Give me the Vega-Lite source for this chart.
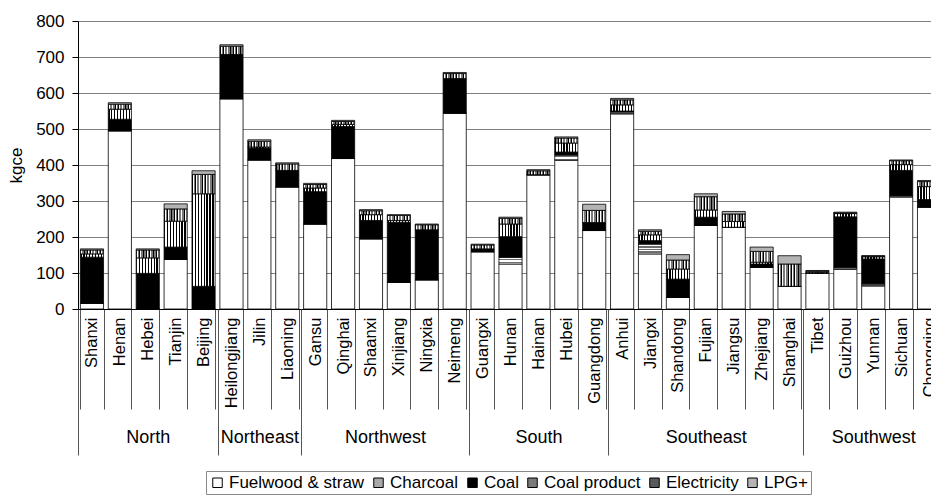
{
  "$schema": "https://vega.github.io/schema/vega-lite/v6.json",
  "width": 853,
  "height": 288,
  "autosize": {"type": "none"},
  "padding": {"left": 78, "top": 21, "right": 0, "bottom": 186},
  "config": {"font": "Liberation Sans", "view": {"stroke": null}},
  "layer": [
    {
      "data": {"values": [
        {"p": "Shanxi", "g": "North", "Fuelwood & straw": 16, "Charcoal": 0, "Coal": 128, "Coal product": 9, "Electricity": 11, "LPG+": 3},
        {"p": "Henan", "g": "North", "Fuelwood & straw": 495, "Charcoal": 0, "Coal": 32, "Coal product": 28, "Electricity": 14, "LPG+": 4},
        {"p": "Hebei", "g": "North", "Fuelwood & straw": 1, "Charcoal": 0, "Coal": 98, "Coal product": 43, "Electricity": 22, "LPG+": 3},
        {"p": "Tianjin", "g": "North", "Fuelwood & straw": 138, "Charcoal": 0, "Coal": 34, "Coal product": 72, "Electricity": 34, "LPG+": 14},
        {"p": "Beijing", "g": "North", "Fuelwood & straw": 0, "Charcoal": 0, "Coal": 63, "Coal product": 257, "Electricity": 54, "LPG+": 10},
        {"p": "Heilongjiang", "g": "Northeast", "Fuelwood & straw": 584, "Charcoal": 0, "Coal": 123, "Coal product": 0, "Electricity": 23, "LPG+": 4},
        {"p": "Jilin", "g": "Northeast", "Fuelwood & straw": 414, "Charcoal": 0, "Coal": 33, "Coal product": 3, "Electricity": 16, "LPG+": 4},
        {"p": "Liaoning", "g": "Northeast", "Fuelwood & straw": 339, "Charcoal": 0, "Coal": 46, "Coal product": 0, "Electricity": 18, "LPG+": 3},
        {"p": "Gansu", "g": "Northwest", "Fuelwood & straw": 236, "Charcoal": 0, "Coal": 90, "Coal product": 10, "Electricity": 10, "LPG+": 3},
        {"p": "Qinghai", "g": "Northwest", "Fuelwood & straw": 418, "Charcoal": 0, "Coal": 89, "Coal product": 6, "Electricity": 8, "LPG+": 3},
        {"p": "Shaanxi", "g": "Northwest", "Fuelwood & straw": 195, "Charcoal": 0, "Coal": 51, "Coal product": 16, "Electricity": 11, "LPG+": 3},
        {"p": "Xinjiang", "g": "Northwest", "Fuelwood & straw": 74, "Charcoal": 0, "Coal": 167, "Coal product": 5, "Electricity": 14, "LPG+": 2},
        {"p": "Ningxia", "g": "Northwest", "Fuelwood & straw": 81, "Charcoal": 0, "Coal": 139, "Coal product": 0, "Electricity": 14, "LPG+": 2},
        {"p": "Neimeng", "g": "Northwest", "Fuelwood & straw": 544, "Charcoal": 0, "Coal": 96, "Coal product": 0, "Electricity": 14, "LPG+": 3},
        {"p": "Guangxi", "g": "South", "Fuelwood & straw": 159, "Charcoal": 0, "Coal": 8, "Coal product": 0, "Electricity": 11, "LPG+": 2},
        {"p": "Hunan", "g": "South", "Fuelwood & straw": 125, "Charcoal": 19, "Coal": 57, "Coal product": 35, "Electricity": 16, "LPG+": 3},
        {"p": "Hainan", "g": "South", "Fuelwood & straw": 373, "Charcoal": 0, "Coal": 0, "Coal product": 0, "Electricity": 11, "LPG+": 3},
        {"p": "Hubei", "g": "South", "Fuelwood & straw": 413, "Charcoal": 15, "Coal": 8, "Coal product": 25, "Electricity": 14, "LPG+": 3},
        {"p": "Guangdong", "g": "South", "Fuelwood & straw": 218, "Charcoal": 0, "Coal": 22, "Coal product": 0, "Electricity": 34, "LPG+": 17},
        {"p": "Anhui", "g": "Southeast", "Fuelwood & straw": 542, "Charcoal": 5, "Coal": 3, "Coal product": 17, "Electricity": 14, "LPG+": 4},
        {"p": "Jiangxi", "g": "Southeast", "Fuelwood & straw": 153, "Charcoal": 28, "Coal": 9, "Coal product": 16, "Electricity": 10, "LPG+": 4},
        {"p": "Shandong", "g": "Southeast", "Fuelwood & straw": 32, "Charcoal": 0, "Coal": 51, "Coal product": 28, "Electricity": 25, "LPG+": 15},
        {"p": "Fujian", "g": "Southeast", "Fuelwood & straw": 232, "Charcoal": 0, "Coal": 23, "Coal product": 20, "Electricity": 37, "LPG+": 8},
        {"p": "Jiangsu", "g": "Southeast", "Fuelwood & straw": 227, "Charcoal": 0, "Coal": 0, "Coal product": 16, "Electricity": 21, "LPG+": 7},
        {"p": "Zhejiang", "g": "Southeast", "Fuelwood & straw": 116, "Charcoal": 0, "Coal": 9, "Coal product": 5, "Electricity": 30, "LPG+": 12},
        {"p": "Shanghai", "g": "Southeast", "Fuelwood & straw": 63, "Charcoal": 0, "Coal": 0, "Coal product": 0, "Electricity": 62, "LPG+": 23},
        {"p": "Tibet", "g": "Southwest", "Fuelwood & straw": 99, "Charcoal": 0, "Coal": 0, "Coal product": 3, "Electricity": 3, "LPG+": 2},
        {"p": "Guizhou", "g": "Southwest", "Fuelwood & straw": 110, "Charcoal": 6, "Coal": 140, "Coal product": 9, "Electricity": 2, "LPG+": 2},
        {"p": "Yunnan", "g": "Southwest", "Fuelwood & straw": 64, "Charcoal": 6, "Coal": 69, "Coal product": 6, "Electricity": 2, "LPG+": 1},
        {"p": "Sichuan", "g": "Southwest", "Fuelwood & straw": 311, "Charcoal": 4, "Coal": 70, "Coal product": 16, "Electricity": 11, "LPG+": 2},
        {"p": "Chongqing", "g": "Southwest", "Fuelwood & straw": 283, "Charcoal": 0, "Coal": 21, "Coal product": 36, "Electricity": 14, "LPG+": 3}
      ]},
      "transform": [
        {"fold": ["Fuelwood & straw", "Charcoal", "Coal", "Coal product", "Electricity", "LPG+"], "as": ["cat", "v"]},
        {"lookup": "cat", "from": {"data": {"values": [
          {"cat": "Fuelwood & straw", "k": 1}, {"cat": "Charcoal", "k": 2}, {"cat": "Coal", "k": 3},
          {"cat": "Coal product", "k": 4}, {"cat": "Electricity", "k": 5}, {"cat": "LPG+", "k": 6}
        ]}, "key": "cat", "fields": ["k"]}}
      ],
      "mark": {"type": "bar", "stroke": "#000000", "strokeWidth": 0.8},
      "encoding": {
        "x": {
          "field": "p", "type": "nominal", "sort": null,
          "scale": {
            "domain": ["Shanxi","Henan","Hebei","Tianjin","Beijing","Heilongjiang","Jilin","Liaoning","Gansu","Qinghai","Shaanxi","Xinjiang","Ningxia","Neimeng","Guangxi","Hunan","Hainan","Hubei","Guangdong","Anhui","Jiangxi","Shandong","Fujian","Jiangsu","Zhejiang","Shanghai","Tibet","Guizhou","Yunnan","Sichuan","Chongqing"],
            "range": [0, 865], "paddingInner": 0.17, "paddingOuter": 0.085
          },
          "axis": {
            "title": null, "orient": "bottom", "labelAngle": 270, "tickBand": "extent",
            "tickSize": 100, "tickColor": "#555555", "labelPadding": -92,
            "labelFontSize": 16.5, "labelColor": "#000000", "domainColor": "#000000",
            "labelLimit": 200, "grid": false
          }
        },
        "y": {
          "field": "v", "type": "quantitative", "stack": "zero",
          "scale": {"domain": [0, 800], "nice": false},
          "axis": {
            "title": "kgce", "values": [0,100,200,300,400,500,600,700,800],
            "grid": true, "gridColor": "#808080", "domainColor": "#000000",
            "tickColor": "#000000", "tickSize": 6, "labelPadding": 8,
            "labelFontSize": 17, "labelColor": "#000000",
            "titleFontSize": 17, "titleFontWeight": "normal", "titleColor": "#000000", "titlePadding": 10
          }
        },
        "order": {"field": "k", "type": "quantitative", "sort": "ascending"},
        "fill": {
          "condition": [
            {"test": "datum.cat === 'Charcoal'", "value": {"gradient": "linear", "x1": 0, "y1": 0, "x2": 0, "y2": 1, "stops": [
                {"offset": 0, "color": "#6e6e6e"}, {"offset": 0.125, "color": "#6e6e6e"}, {"offset": 0.125, "color": "#ffffff"}, {"offset": 0.25, "color": "#ffffff"},
                {"offset": 0.25, "color": "#6e6e6e"}, {"offset": 0.375, "color": "#6e6e6e"}, {"offset": 0.375, "color": "#ffffff"}, {"offset": 0.5, "color": "#ffffff"},
                {"offset": 0.5, "color": "#6e6e6e"}, {"offset": 0.625, "color": "#6e6e6e"}, {"offset": 0.625, "color": "#ffffff"}, {"offset": 0.75, "color": "#ffffff"},
                {"offset": 0.75, "color": "#6e6e6e"}, {"offset": 0.875, "color": "#6e6e6e"}, {"offset": 0.875, "color": "#ffffff"}, {"offset": 1, "color": "#ffffff"}
              ]}},
            {"test": "datum.cat === 'Coal product'", "value": {"gradient": "linear", "x1": 0, "y1": 0, "x2": 1, "y2": 0, "stops": [
                {"offset": 0, "color": "#000000"}, {"offset": 0.055, "color": "#000000"}, {"offset": 0.055, "color": "#ffffff"}, {"offset": 0.125, "color": "#ffffff"},
                {"offset": 0.125, "color": "#000000"}, {"offset": 0.18, "color": "#000000"}, {"offset": 0.18, "color": "#ffffff"}, {"offset": 0.25, "color": "#ffffff"},
                {"offset": 0.25, "color": "#000000"}, {"offset": 0.305, "color": "#000000"}, {"offset": 0.305, "color": "#ffffff"}, {"offset": 0.375, "color": "#ffffff"},
                {"offset": 0.375, "color": "#000000"}, {"offset": 0.43, "color": "#000000"}, {"offset": 0.43, "color": "#ffffff"}, {"offset": 0.5, "color": "#ffffff"},
                {"offset": 0.5, "color": "#000000"}, {"offset": 0.555, "color": "#000000"}, {"offset": 0.555, "color": "#ffffff"}, {"offset": 0.625, "color": "#ffffff"},
                {"offset": 0.625, "color": "#000000"}, {"offset": 0.68, "color": "#000000"}, {"offset": 0.68, "color": "#ffffff"}, {"offset": 0.75, "color": "#ffffff"},
                {"offset": 0.75, "color": "#000000"}, {"offset": 0.805, "color": "#000000"}, {"offset": 0.805, "color": "#ffffff"}, {"offset": 0.875, "color": "#ffffff"},
                {"offset": 0.875, "color": "#000000"}, {"offset": 0.93, "color": "#000000"}, {"offset": 0.93, "color": "#ffffff"}, {"offset": 1, "color": "#ffffff"}
              ]}},
            {"test": "datum.cat === 'Electricity'", "value": {"gradient": "linear", "x1": 0, "y1": 0, "x2": 1, "y2": 0, "stops": [
                {"offset": 0, "color": "#000000"}, {"offset": 0.0357, "color": "#000000"}, {"offset": 0.0357, "color": "#ffffff"}, {"offset": 0.0714, "color": "#ffffff"}, {"offset": 0.0714, "color": "#7a7a7a"}, {"offset": 0.1429, "color": "#7a7a7a"},
                {"offset": 0.1429, "color": "#000000"}, {"offset": 0.1786, "color": "#000000"}, {"offset": 0.1786, "color": "#ffffff"}, {"offset": 0.2143, "color": "#ffffff"}, {"offset": 0.2143, "color": "#7a7a7a"}, {"offset": 0.2857, "color": "#7a7a7a"},
                {"offset": 0.2857, "color": "#000000"}, {"offset": 0.3214, "color": "#000000"}, {"offset": 0.3214, "color": "#ffffff"}, {"offset": 0.3571, "color": "#ffffff"}, {"offset": 0.3571, "color": "#7a7a7a"}, {"offset": 0.4286, "color": "#7a7a7a"},
                {"offset": 0.4286, "color": "#000000"}, {"offset": 0.4643, "color": "#000000"}, {"offset": 0.4643, "color": "#ffffff"}, {"offset": 0.5, "color": "#ffffff"}, {"offset": 0.5, "color": "#7a7a7a"}, {"offset": 0.5714, "color": "#7a7a7a"},
                {"offset": 0.5714, "color": "#000000"}, {"offset": 0.6071, "color": "#000000"}, {"offset": 0.6071, "color": "#ffffff"}, {"offset": 0.6429, "color": "#ffffff"}, {"offset": 0.6429, "color": "#7a7a7a"}, {"offset": 0.7143, "color": "#7a7a7a"},
                {"offset": 0.7143, "color": "#000000"}, {"offset": 0.75, "color": "#000000"}, {"offset": 0.75, "color": "#ffffff"}, {"offset": 0.7857, "color": "#ffffff"}, {"offset": 0.7857, "color": "#7a7a7a"}, {"offset": 0.8571, "color": "#7a7a7a"},
                {"offset": 0.8571, "color": "#000000"}, {"offset": 0.8929, "color": "#000000"}, {"offset": 0.8929, "color": "#ffffff"}, {"offset": 0.9286, "color": "#ffffff"}, {"offset": 0.9286, "color": "#7a7a7a"}, {"offset": 1, "color": "#7a7a7a"}
              ]}}
          ],
          "field": "cat", "type": "nominal",
          "scale": {
            "domain": ["Fuelwood & straw", "Charcoal", "Coal", "Coal product", "Electricity", "LPG+"],
            "range": ["#ffffff", "#a8a8a8", "#000000", "#7a7a7a", "#5a5a5a", "#b4b4b4"]
          },
          "legend": {
            "orient": "none", "legendX": 128, "legendY": 450,
            "direction": "horizontal", "columns": 6, "title": null,
            "symbolType": "square", "symbolSize": 90, "symbolStrokeColor": "#000000", "symbolStrokeWidth": 1,
            "labelFontSize": 17, "labelColor": "#000000", "labelOffset": 3, "columnPadding": 5,
            "padding": 3, "strokeColor": "#888888", "labelLimit": 300,
            "encode": {"symbols": {"update": {
              "stroke": {"value": "#000000"},
              "strokeWidth": {"value": 1},
              "opacity": {"value": 1},
              "fill": [
              {"test": "datum.value === 'Charcoal'", "value": {"gradient": "linear", "x1": 0, "y1": 0, "x2": 0, "y2": 1, "stops": [
                {"offset": 0, "color": "#6e6e6e"}, {"offset": 0.2, "color": "#6e6e6e"}, {"offset": 0.2, "color": "#ffffff"}, {"offset": 0.33, "color": "#ffffff"},
                {"offset": 0.33, "color": "#6e6e6e"}, {"offset": 0.53, "color": "#6e6e6e"}, {"offset": 0.53, "color": "#ffffff"}, {"offset": 0.66, "color": "#ffffff"},
                {"offset": 0.66, "color": "#6e6e6e"}, {"offset": 0.86, "color": "#6e6e6e"}, {"offset": 0.86, "color": "#ffffff"}, {"offset": 1, "color": "#ffffff"}
              ]}},
              {"test": "datum.value === 'Coal product'", "value": {"gradient": "linear", "x1": 0, "y1": 0, "x2": 1, "y2": 0, "stops": [
                {"offset": 0, "color": "#ffffff"}, {"offset": 0.3, "color": "#ffffff"}, {"offset": 0.3, "color": "#000000"}, {"offset": 0.4, "color": "#000000"},
                {"offset": 0.4, "color": "#ffffff"}, {"offset": 0.6, "color": "#ffffff"}, {"offset": 0.6, "color": "#000000"}, {"offset": 0.7, "color": "#000000"},
                {"offset": 0.7, "color": "#ffffff"}, {"offset": 1, "color": "#ffffff"}
              ]}},
              {"test": "datum.value === 'Electricity'", "value": {"gradient": "linear", "x1": 0, "y1": 0, "x2": 1, "y2": 0, "stops": [
                {"offset": 0, "color": "#7a7a7a"}, {"offset": 0.2, "color": "#7a7a7a"}, {"offset": 0.2, "color": "#000000"}, {"offset": 0.33, "color": "#000000"},
                {"offset": 0.33, "color": "#7a7a7a"}, {"offset": 0.53, "color": "#7a7a7a"}, {"offset": 0.53, "color": "#000000"}, {"offset": 0.66, "color": "#000000"},
                {"offset": 0.66, "color": "#7a7a7a"}, {"offset": 0.86, "color": "#7a7a7a"}, {"offset": 0.86, "color": "#000000"}, {"offset": 1, "color": "#000000"}
              ]}},
              {"scale": "fill", "field": "value"}
            ]}}}
          }
        }
      }
    },
    {
      "data": {"values": [{"b": 0}, {"b": 5}, {"b": 8}, {"b": 14}, {"b": 19}, {"b": 26}, {"b": 31}]},
      "mark": {"type": "rule", "strokeOpacity": 0},
      "encoding": {
        "x": {
          "field": "b", "type": "quantitative",
          "scale": {"domain": [0, 31], "range": [0, 865], "nice": false, "zero": false},
          "axis": {"values": [0, 5, 8, 14, 19, 26, 31], "orient": "bottom", "labels": false, "domain": false, "grid": false, "tickSize": 146, "tickColor": "#555555", "title": null}
        }
      }
    },
    {
      "data": {"values": [
        {"g": "North", "m": 2.5}, {"g": "Northeast", "m": 6.5}, {"g": "Northwest", "m": 11},
        {"g": "South", "m": 16.5}, {"g": "Southeast", "m": 22.5}, {"g": "Southwest", "m": 28.5}
      ]},
      "mark": {"type": "rule", "strokeOpacity": 0},
      "encoding": {
        "x": {
          "field": "m", "type": "quantitative",
          "scale": {"domain": [0, 31], "range": [0, 865], "nice": false, "zero": false},
          "axis": {
            "values": [2.5, 6.5, 11, 16.5, 22.5, 28.5], "orient": "bottom", "ticks": false, "domain": false, "grid": false,
            "labelPadding": 119, "labelFontSize": 18, "labelColor": "#000000", "title": null, "labelFlush": false, "labelOverlap": false,
            "labelExpr": "datum.value == 2.5 ? 'North' : datum.value == 6.5 ? 'Northeast' : datum.value == 11 ? 'Northwest' : datum.value == 16.5 ? 'South' : datum.value == 22.5 ? 'Southeast' : 'Southwest'"
          }
        }
      }
    }
  ],
  "resolve": {"scale": {"x": "independent"}, "axis": {"x": "independent"}}
}
